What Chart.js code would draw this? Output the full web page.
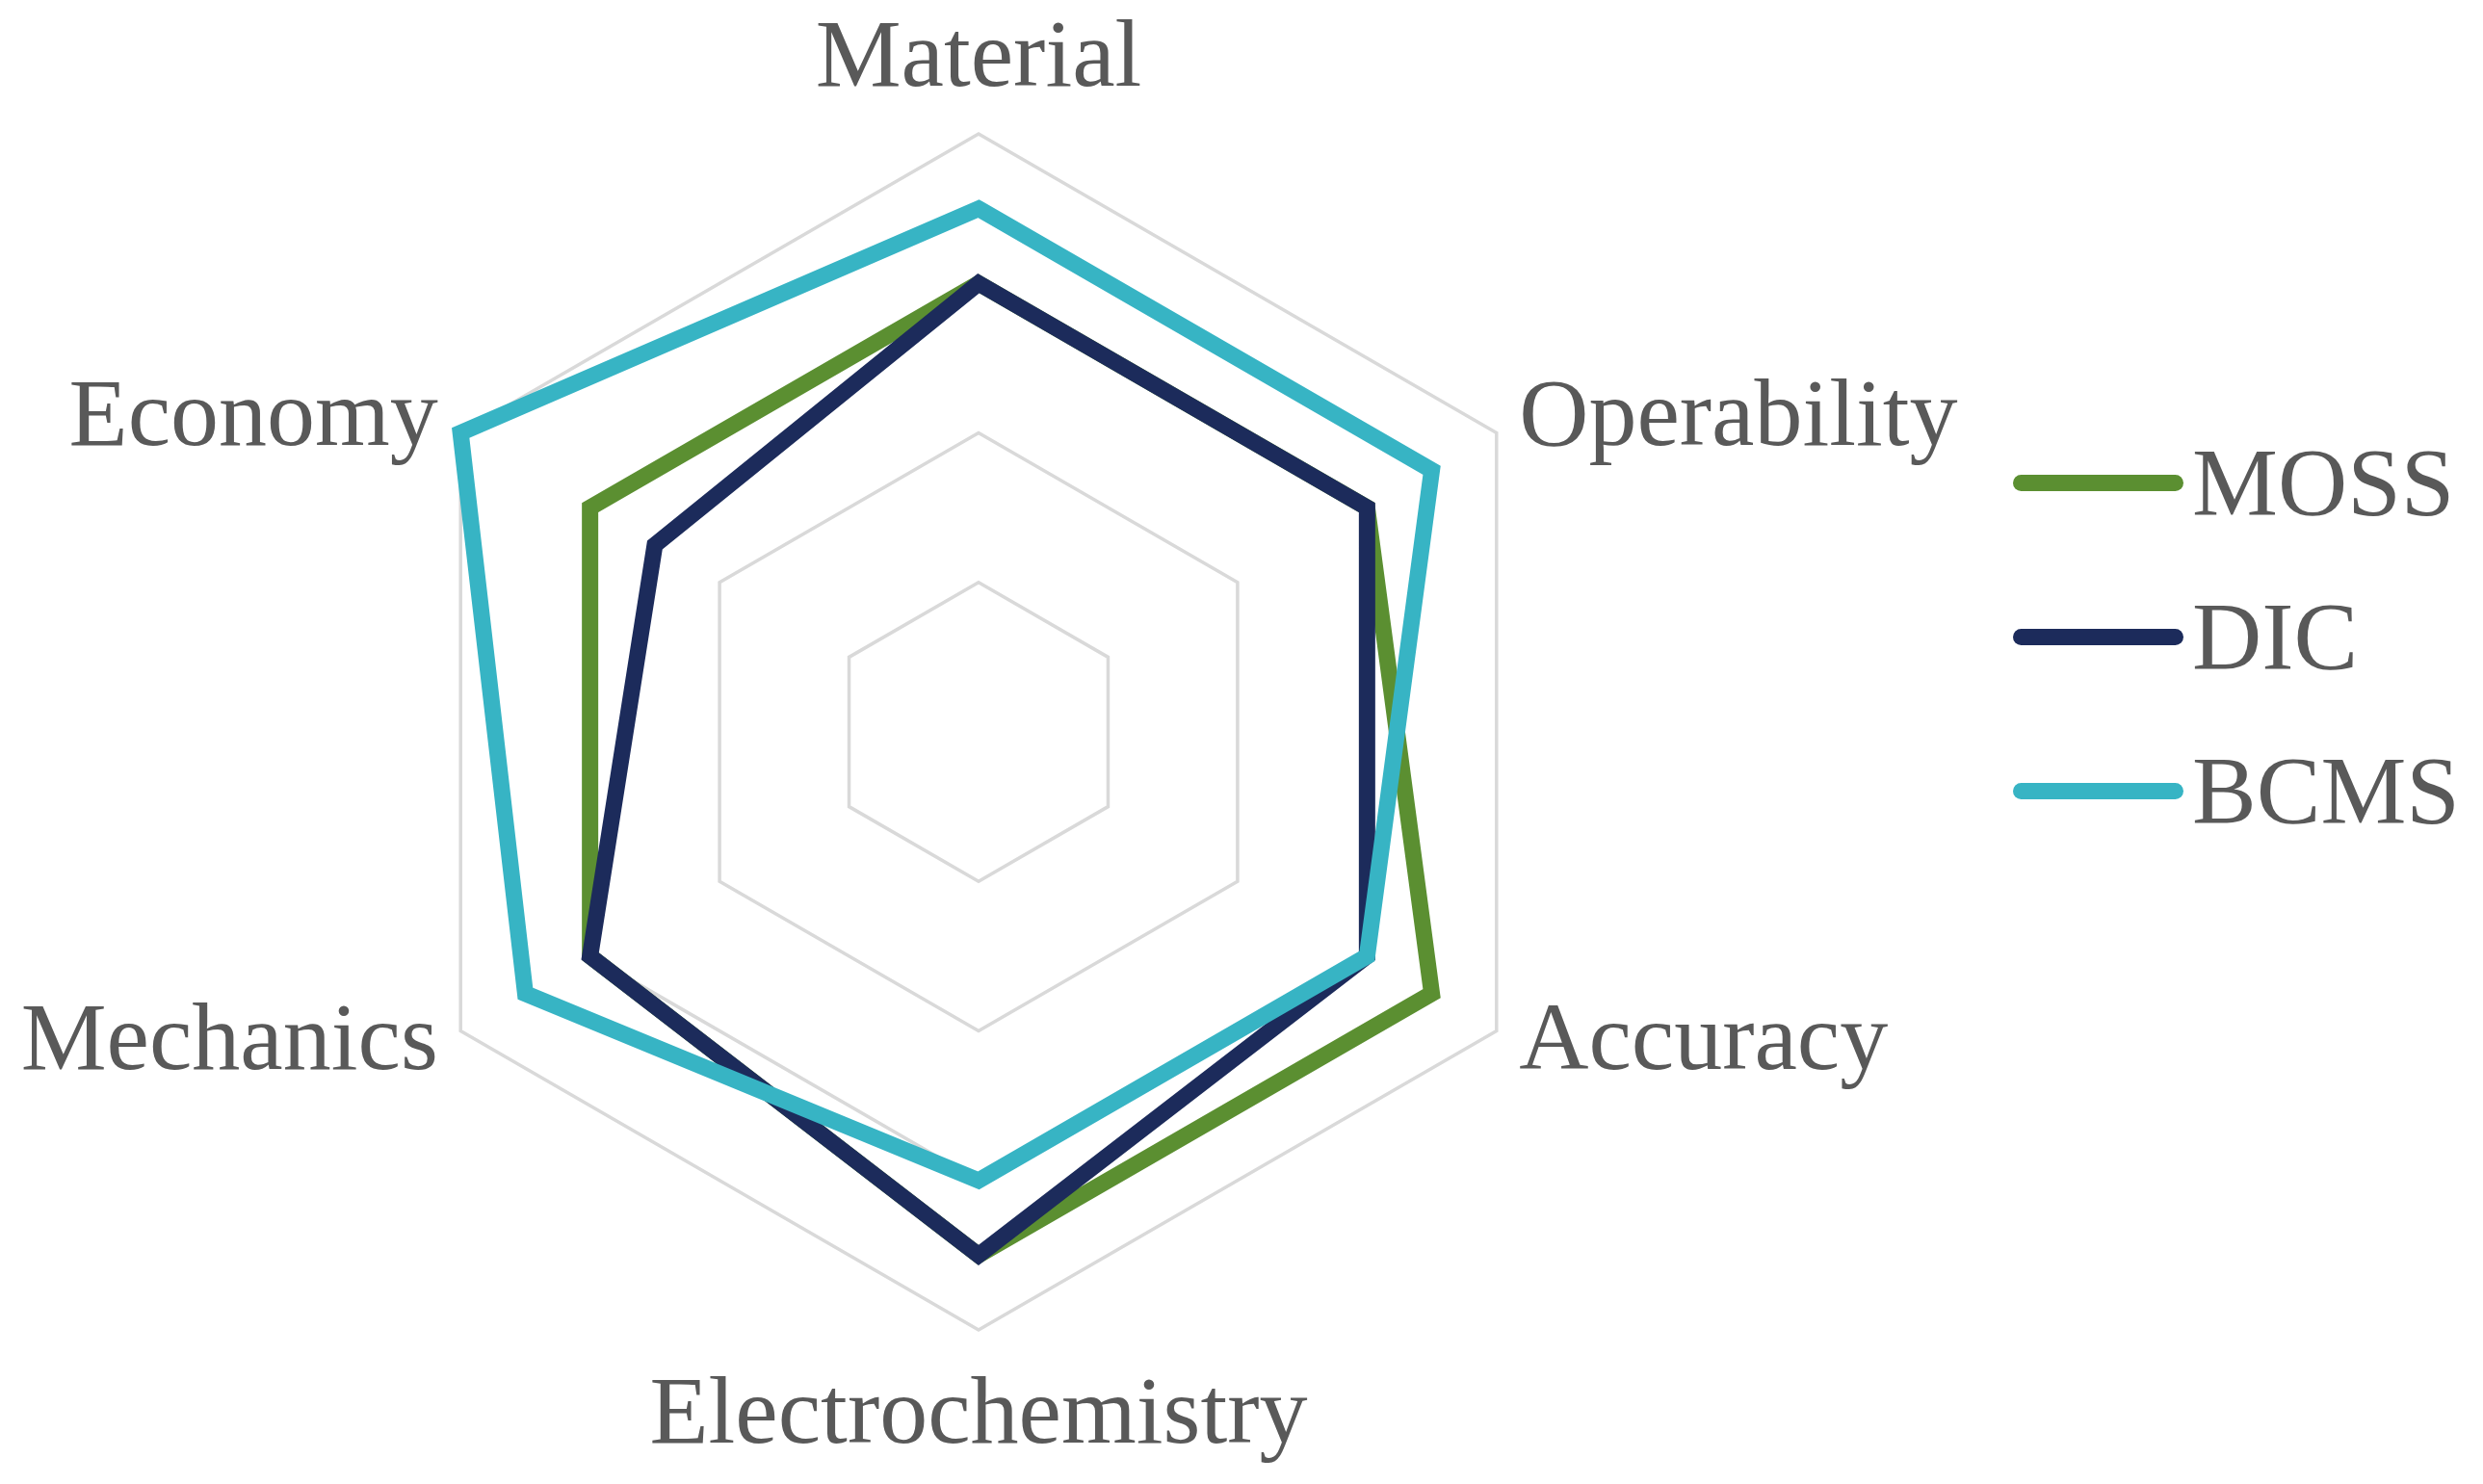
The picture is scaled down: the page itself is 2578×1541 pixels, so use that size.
<!DOCTYPE html>
<html>
<head>
<meta charset="utf-8">
<title>Method comparison radar</title>
<script src="https://cdn.jsdelivr.net/npm/chart.js@4.4.1/dist/chart.umd.min.js"></script>
<style>
  html, body { margin: 0; padding: 0; background: #ffffff; }
  #wrap { position: relative; width: 2578px; height: 1541px; }
  #legend {
    position: absolute; left: 2090px; top: 421px;
    font-family: "Liberation Serif", "Times New Roman", serif;
    font-size: 100px; color: #595959;
  }
  .row { display: flex; align-items: center; height: 160px; line-height: 160px; }
  .swatch { width: 177px; height: 17px; border-radius: 9px; margin-right: 9px; }
</style>
</head>
<body>
<div id="wrap">
  <canvas id="radar"></canvas>
  <div id="legend"></div>
</div>
<script>
  "use strict";

  // axes, clockwise from the top
  var categories = ["Material", "Operability", "Accuracy", "Electrochemistry", "Mechanics", "Economy"];
  var seriesNames = ["MOSS", "DIC", "BCMS"];
  var mossScores = [3, 3, 3.5, 3.5, 3, 3];
  var dicScores = [3, 3, 3, 3.5, 3, 2.5];
  var bcmsScores = [3.5, 3.5, 3, 3, 3.5, 4];
  var scaleMax = 4;

  var colors = ["#5b8f31", "#1c2b5b", "#37b4c4"];
  var textColor = "#595959";
  var serif = '"Liberation Serif", "Times New Roman", serif';

  function series(i, values) {
    return {
      label: seriesNames[i],
      data: values,
      borderColor: colors[i],
      backgroundColor: "transparent",
      borderWidth: 17,
      fill: false,
      pointRadius: 0,
      pointHoverRadius: 0,
      tension: 0,
      order: 3 - i, // BCMS on top, MOSS underneath
    };
  }

  var chart = new Chart(document.getElementById("radar"), {
    type: "radar",
    data: {
      labels: categories,
      datasets: [series(0, mossScores), series(1, dicScores), series(2, bcmsScores)],
    },
    options: {
      responsive: true,
      maintainAspectRatio: false,
      animation: false,
      layout: { padding: { top: 56, bottom: 61, left: 0, right: 520 } },
      plugins: { legend: { display: false }, tooltip: { enabled: false } },
      scales: {
        r: {
          min: 0,
          max: scaleMax,
          ticks: { stepSize: 1, display: false },
          angleLines: { display: false },
          grid: { color: "#d9d9d9", lineWidth: 3.5 },
          pointLabels: {
            color: textColor,
            // lineHeight 0 keeps each label centred on its spot
            font: { family: serif, size: 100, lineHeight: 0 },
            padding: function (ctx) { return ctx.index === 0 ? 76 : ctx.index === 3 ? 91 : 27; },
          },
        },
      },
    },
  });

  // legend built from the chart's own datasets
  var legend = document.getElementById("legend");
  chart.data.datasets.forEach(function (ds) {
    var row = document.createElement("div");
    row.className = "row";
    var sw = document.createElement("span");
    sw.className = "swatch";
    sw.style.background = ds.borderColor;
    var txt = document.createElement("span");
    txt.textContent = ds.label;
    row.appendChild(sw);
    row.appendChild(txt);
    legend.appendChild(row);
  });
</script>
</body>
</html>
